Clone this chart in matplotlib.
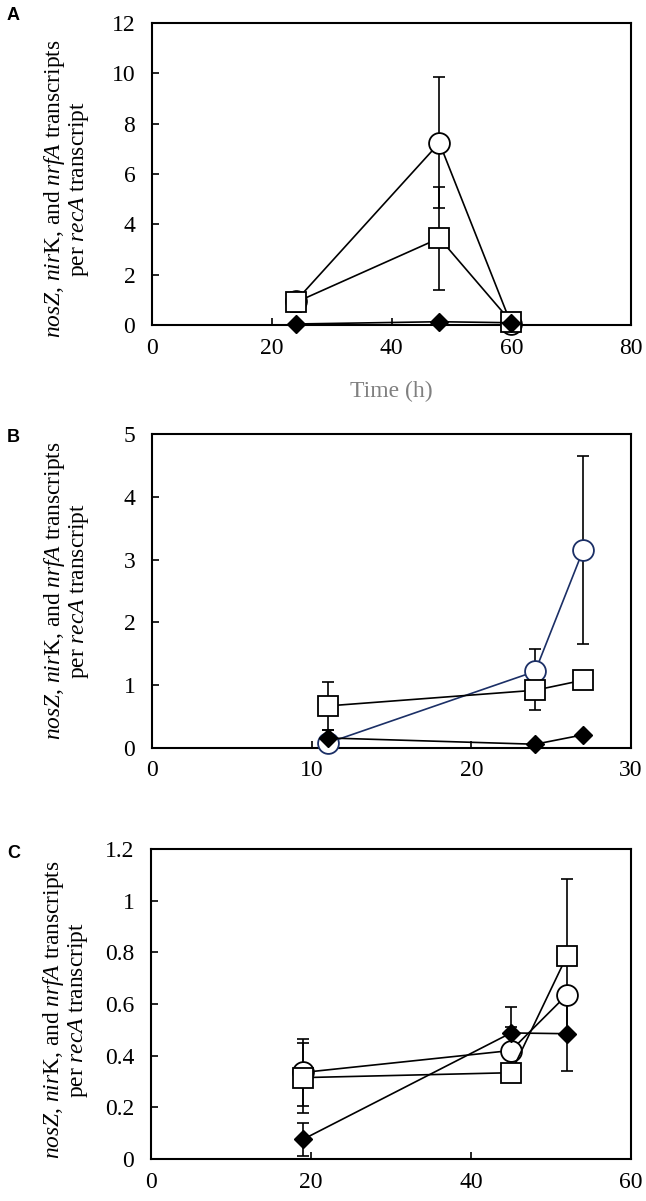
import matplotlib
matplotlib.use('Agg')
import matplotlib.pyplot as plt

# panel A (time in h)
x_a = [24, 48, 60]
circle_a = [0.95, 7.24, 0.03]
circle_err_a = [0.0, 2.6, 0.0]
square_a = [0.9, 3.45, 0.12]
square_err_a = [0.4, 2.05, 0.0]
diamond_a = [0.04, 0.13, 0.09]
diamond_err_a = [0.0, 0.0, 0.0]

# panel B
x_b = [11, 24, 27]
circle_b = [0.08, 1.22, 3.15]
circle_err_b = [0.0, 0.35, 1.5]
square_b = [0.67, 0.92, 1.08]
square_err_b = [0.38, 0.32, 0.0]
diamond_b = [0.16, 0.06, 0.21]
diamond_err_b = [0.12, 0.0, 0.0]

# panel C
x_c = [19, 45, 52]
circle_c = [0.335, 0.42, 0.636]
circle_err_c = [0.13, 0.09, 0.0]
square_c = [0.315, 0.334, 0.787]
square_err_c = [0.135, 0.0, 0.295]
diamond_c = [0.076, 0.488, 0.485]
diamond_err_c = [0.064, 0.1, 0.143]

plt.rcParams['font.family'] = 'Liberation Serif'
plt.rcParams['mathtext.fontset'] = 'custom'
plt.rcParams['mathtext.rm'] = 'Liberation Serif'
plt.rcParams['mathtext.it'] = 'Liberation Serif:italic'

ylab = r"$nosZ$, $nir$K, and $nrfA$ transcripts" + "\n" + r"per $recA$ transcript"

fig = plt.figure(figsize=(6.46, 12.01), dpi=100)

W, H = 646.0, 1201.0
def rect(left, top, right, bottom):
    return [left / W, 1 - bottom / H, (right - left) / W, (bottom - top) / H]

panels = [
    dict(r=rect(152, 23, 631, 325), x=x_a, c=circle_a, ce=circle_err_a, s=square_a, se=square_err_a,
         d=diamond_a, de=diamond_err_a, xlim=(0, 80), xt=[0, 20, 40, 60, 80], ylim=(0, 12),
         yt=[0, 2, 4, 6, 8, 10, 12], ytl=None, ccol='black', lab='A', labpx=15, ly=0.45),
    dict(r=rect(152, 434, 631, 748), x=x_b, c=circle_b, ce=circle_err_b, s=square_b, se=square_err_b,
         d=diamond_b, de=diamond_err_b, xlim=(0, 30), xt=[0, 10, 20, 30], ylim=(0, 5),
         yt=[0, 1, 2, 3, 4, 5], ytl=None, ccol='#1b2f66', lab='B', labpx=437, ly=0.5),
    dict(r=rect(151, 849, 631, 1159), x=x_c, c=circle_c, ce=circle_err_c, s=square_c, se=square_err_c,
         d=diamond_c, de=diamond_err_c, xlim=(0, 60), xt=[0, 20, 40, 60], ylim=(0, 1.2),
         yt=[0, 0.2, 0.4, 0.6, 0.8, 1.0, 1.2], ytl=['0', '0.2', '0.4', '0.6', '0.8', '1', '1.2'],
         ccol='black', lab='C', labpx=853, ly=0.48),
]

for p in panels:
    ax = fig.add_axes(p['r'])
    eb = dict(fmt='none', ecolor='black', elinewidth=1.2, capsize=4, capthick=1.2, zorder=1)
    # error bars behind the markers
    ax.errorbar(p['x'], p['c'], yerr=p['ce'], **eb)
    ax.errorbar(p['x'], p['s'], yerr=p['se'], **eb)
    ax.errorbar(p['x'], p['d'], yerr=p['de'], **eb)
    ax.plot(p['x'], p['c'], color=p['ccol'], lw=1.2, marker='o', markersize=15,
            markerfacecolor='white', markeredgecolor=p['ccol'], markeredgewidth=1.3, zorder=3, clip_on=False)
    ax.plot(p['x'], p['s'], color='black', lw=1.2, marker='s', markersize=14,
            markerfacecolor='white', markeredgecolor='black', markeredgewidth=1.3, zorder=4, clip_on=False)
    ax.plot(p['x'], p['d'], color='black', lw=1.2, marker='D', markersize=9.5,
            markerfacecolor='black', markeredgecolor='black', zorder=5, clip_on=False)
    ax.set_xlim(*p['xlim'])
    ax.set_ylim(*p['ylim'])
    ax.set_xticks(p['xt'])
    ax.set_yticks(p['yt'])
    if p['ytl'] is not None:
        ax.set_yticklabels(p['ytl'])
    ax.tick_params(direction='in', length=5, width=1.2, labelsize=17)
    ax.tick_params(axis='y', pad=12)
    ax.tick_params(axis='x', pad=9)
    for sp in ax.spines.values():
        sp.set_linewidth(1.5)
    ax.set_ylabel(ylab, fontsize=16.8, linespacing=1.0)
    ax.yaxis.set_label_coords(-0.128, p['ly'])
    fig.text(7 / W, 1 - p['labpx'] / H, p['lab'], fontsize=13, fontweight='bold',
             family='Liberation Sans', va='center', ha='left')
    if p['lab'] == 'A':
        ax.set_xlabel('Time (h)', fontsize=17, color='#808080', labelpad=16)

plt.savefig('out.png', dpi=100)
